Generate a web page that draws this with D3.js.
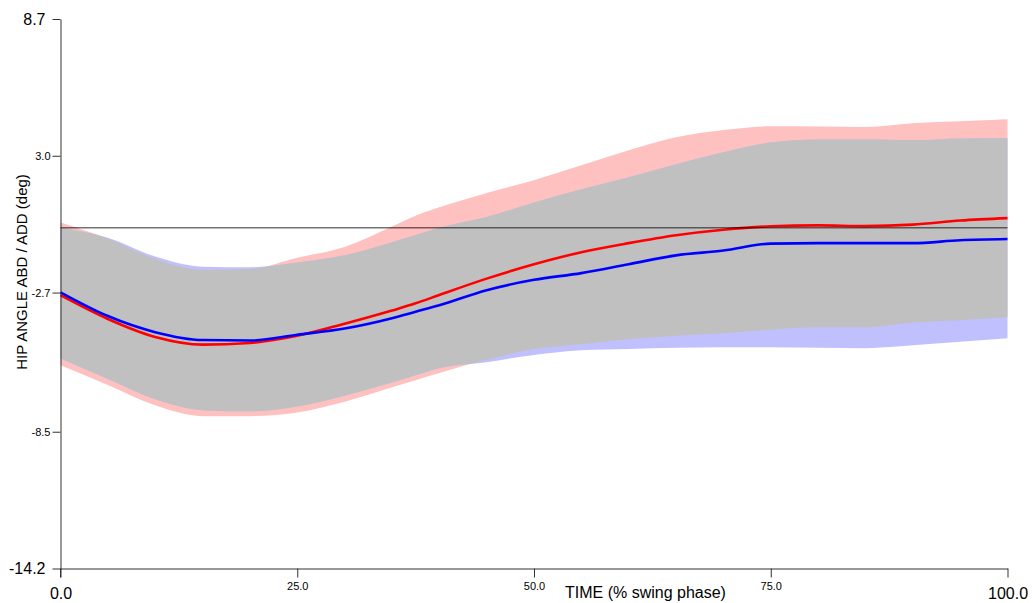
<!DOCTYPE html>
<html>
<head>
<meta charset="utf-8">
<script src="https://cdn.jsdelivr.net/npm/d3@7"></script>
<style>
  html, body { margin: 0; padding: 0; background: #fff; }
  svg { display: block; font-family: "Liberation Sans", Arial, sans-serif; }
</style>
</head>
<body>
<svg id="chart" width="1033" height="603"></svg>
<script>
// ---- data ----
const time = [0, 5, 10, 15, 20, 25, 30, 35, 37.5, 40, 45, 50, 55, 60, 65, 70, 75, 80, 85, 90, 95, 100];
const redMean  = [-2.81, -3.80, -4.55, -4.87, -4.80, -4.50, -4.00, -3.45, -3.15, -2.80, -2.12, -1.52, -1.02, -0.64, -0.31, -0.08, 0.06, 0.10, 0.07, 0.13, 0.30, 0.40];
const blueMean = [-2.69, -3.68, -4.35, -4.68, -4.70, -4.46, -4.20, -3.77, -3.50, -3.23, -2.60, -2.17, -1.89, -1.52, -1.15, -0.95, -0.66, -0.64, -0.64, -0.64, -0.52, -0.47];
const redUpper  = [0.22, -0.45, -1.30, -1.75, -1.72, -1.25, -0.80, 0.05, 0.50, 0.85, 1.45, 1.98, 2.60, 3.23, 3.77, 4.07, 4.23, 4.22, 4.20, 4.36, 4.44, 4.52];
const redLower  = [-5.73, -6.55, -7.40, -7.85, -7.85, -7.70, -7.25, -6.65, -6.35, -6.05, -5.50, -5.05, -4.85, -4.65, -4.50, -4.40, -4.25, -4.15, -4.15, -3.95, -3.85, -3.73];
const blueUpper = [0.00, -0.42, -1.20, -1.62, -1.65, -1.45, -1.15, -0.60, -0.30, 0.00, 0.45, 1.05, 1.60, 2.10, 2.65, 3.15, 3.55, 3.68, 3.68, 3.65, 3.72, 3.73];
const blueLower = [-5.45, -6.30, -7.15, -7.60, -7.65, -7.45, -7.00, -6.45, -6.15, -5.85, -5.60, -5.30, -5.10, -5.05, -5.00, -4.98, -4.98, -5.00, -5.02, -4.90, -4.75, -4.60];
const xTicks = [0, 25, 50, 75, 100];
const xTickLabels = ["0.0", "25.0", "50.0", "75.0", "100.0"];
const yTicks = [8.7, 3.0, -2.7, -8.5, -14.2];
const yTickLabels = ["8.7", "3.0", "-2.7", "-8.5", "-14.2"];
const xTitle = "TIME (% swing phase)";
const yTitle = "HIP ANGLE ABD / ADD  (deg)";

// ---- layout ----
const svg = d3.select("#chart");
const x = d3.scaleLinear().domain([0, 100]).range([60.5, 1007.5]);
const y = d3.scaleLinear().domain([-14.2, 8.7]).range([568.5, 19]);

const rows = time.map((t, i) => ({
  t, rm: redMean[i], bm: blueMean[i], ru: redUpper[i], rl: redLower[i], bu: blueUpper[i], bl: blueLower[i]
}));

const curve = d3.curveMonotoneX;
const area = (lo, hi) => d3.area().curve(curve).x(d => x(d.t)).y0(d => y(d[lo])).y1(d => y(d[hi]));
const line = key => d3.line().curve(curve).x(d => x(d.t)).y(d => y(d[key]));

// bands: pink (red SD), lavender (blue SD), gray where they overlap
svg.append("defs").append("clipPath").attr("id", "redBandClip")
  .append("path").datum(rows).attr("d", area("rl", "ru"));
svg.append("path").datum(rows).attr("d", area("rl", "ru")).attr("fill", "#ffc0c0");
svg.append("path").datum(rows).attr("d", area("bl", "bu")).attr("fill", "#c0c0ff");
svg.append("path").datum(rows).attr("d", area("bl", "bu")).attr("fill", "#c0c0c0")
  .attr("clip-path", "url(#redBandClip)");

svg.append("path").datum(rows).attr("d", line("rm")).attr("fill", "none").attr("stroke", "#ff0000").attr("stroke-width", 2.6);
svg.append("path").datum(rows).attr("d", line("bm")).attr("fill", "none").attr("stroke", "#0000ff").attr("stroke-width", 2.6);

// zero line
svg.append("line")
  .attr("x1", x(0)).attr("x2", x(100)).attr("y1", y(0)).attr("y2", y(0))
  .attr("stroke", "#000").attr("stroke-opacity", 0.55).attr("stroke-width", 1.5);

// ---- axes ----
const xAxis = d3.axisBottom(x).tickValues(xTicks).tickSize(9).tickSizeOuter(0)
  .tickFormat((d, i) => xTickLabels[i]);
const xg = svg.append("g").attr("transform", `translate(0,${y(-14.2)})`).call(xAxis);
xg.select(".domain").attr("stroke", "#333");
xg.selectAll(".tick line").attr("stroke", "#333");
xg.selectAll(".tick text")
  .attr("fill", "#000")
  .attr("dy", null)
  .attr("y", (d, i) => (i === 0 || i === xTicks.length - 1) ? 30 : 21)
  .style("font-size", (d, i) => (i === 0 || i === xTicks.length - 1) ? "16px" : "11px")
  .style("font-family", "'Liberation Sans', Arial, sans-serif");

const yAxis = d3.axisLeft(y).tickValues(yTicks).tickSize(8).tickSizeOuter(0)
  .tickFormat((d, i) => yTickLabels[i]);
const yg = svg.append("g").attr("transform", `translate(${x(0)},0)`).call(yAxis);
yg.select(".domain").attr("stroke", "#333");
yg.selectAll(".tick line").attr("stroke", "#333");
yg.selectAll(".tick text")
  .attr("fill", "#000")
  .attr("x", (d, i) => (i === 0 || i === yTicks.length - 1) ? -15 : -10)
  .style("font-size", (d, i) => (i === 0 || i === yTicks.length - 1) ? "16px" : "11px")
  .style("font-family", "'Liberation Sans', Arial, sans-serif");

// y axis continues a little below the x axis, as in the reference
svg.append("line").attr("x1", x(0)).attr("x2", x(0)).attr("y1", y(-14.2)).attr("y2", y(-14.2) + 9)
  .attr("stroke", "#333");

// titles
svg.append("text").attr("x", 565).attr("y", 598)
  .style("font-size", "16px").attr("fill", "#000").text(xTitle);
svg.append("text").attr("transform", "translate(27,272) rotate(-90)")
  .attr("text-anchor", "middle")
  .style("font-size", "15px").attr("fill", "#000").text(yTitle);
</script>
</body>
</html>
